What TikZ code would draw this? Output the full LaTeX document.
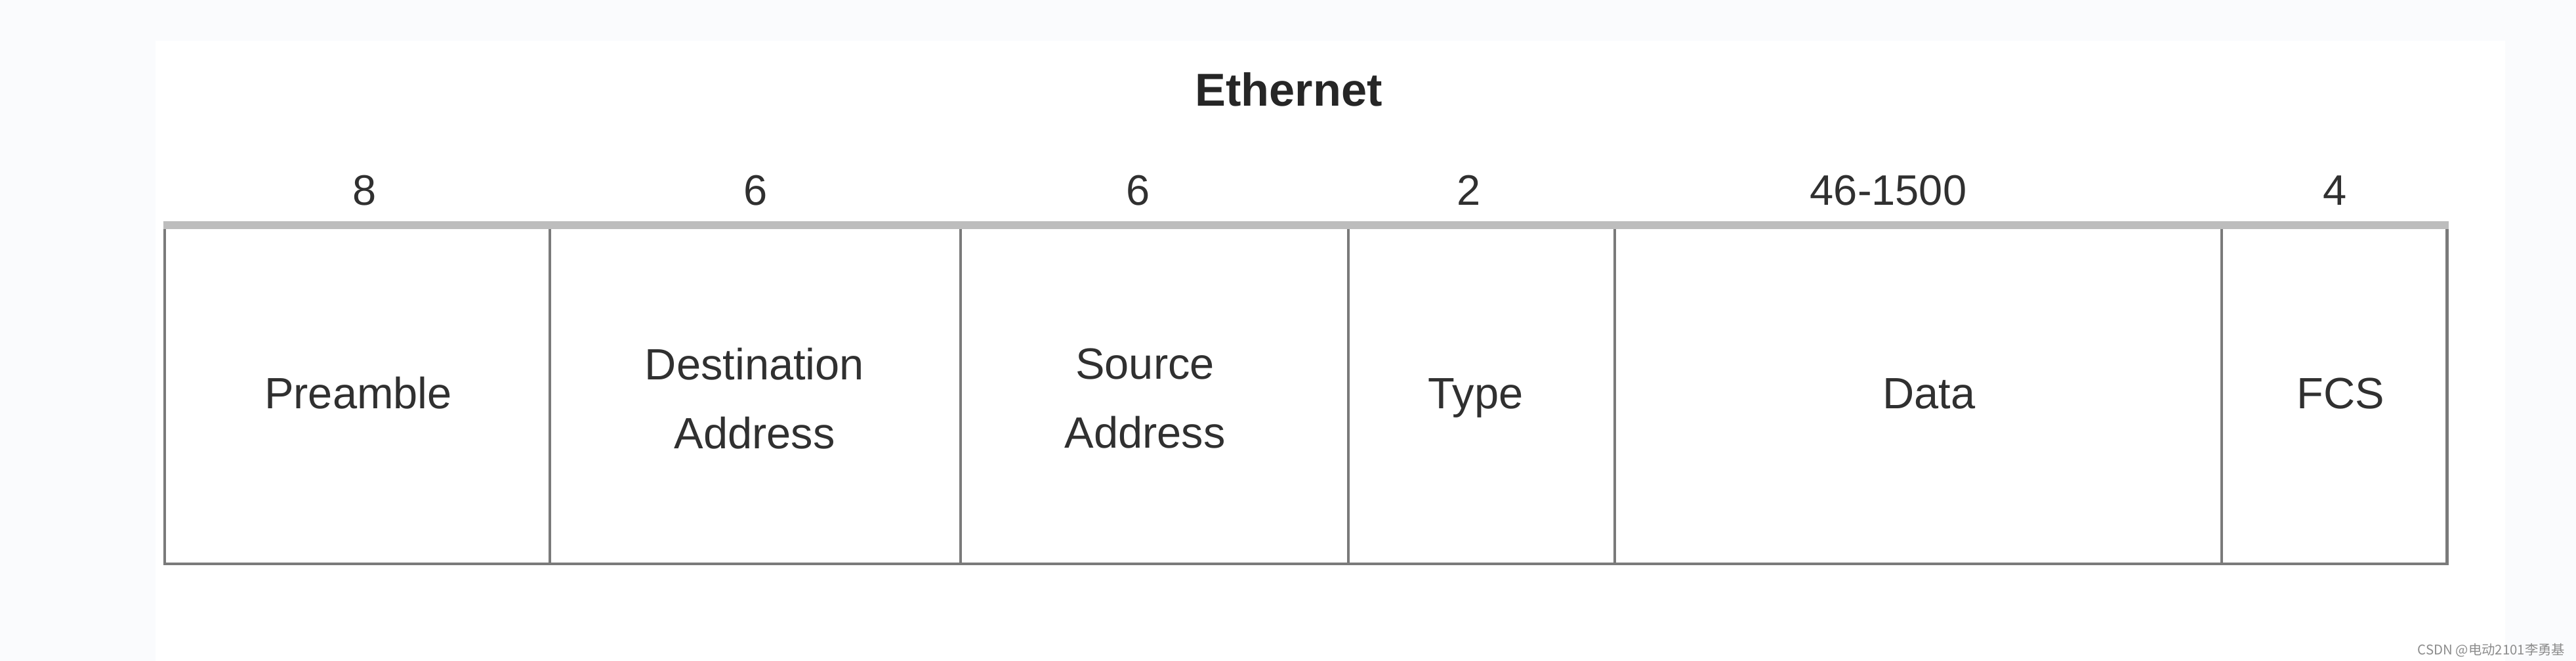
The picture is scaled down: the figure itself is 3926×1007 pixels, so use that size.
\documentclass[tikz,border=0pt]{standalone}
\usepackage{fontspec}
\setmainfont{Liberation Sans}
\newfontfamily\cjkfont{Noto Sans CJK SC}
\usepackage{xcolor}
\definecolor{pagegray}{HTML}{FAFBFD}
\definecolor{framegray}{HTML}{7A7A7A}
\definecolor{topgray}{HTML}{BDBDBD}
\definecolor{inkgray}{HTML}{303030}
\definecolor{markgray}{HTML}{8C8C8C}
\tikzset{
  field/.style={font=\fontsize{19}{29.8}\selectfont, text=inkgray, align=center, inner sep=0pt},
  octets/.style={font=\fontsize{18.5}{22}\selectfont, text=inkgray, inner sep=0pt, anchor=base},
}

\begin{document}
\begin{tikzpicture}[x=0.1mm,y=-0.1mm]
\useasboundingbox (0,0) rectangle (3926,1007);
\fill[pagegray] (0,0) rectangle (3926,1007);
\fill[white] (237,62) rectangle (3818,1007);
% title
\node[font=\fontsize{20}{23}\selectfont\bfseries, text=black!85, inner sep=0pt, anchor=base] (title) at (1964,162) {Ethernet};
% frame of the frame format
\coordinate (topleft) at (251,343);
\coordinate (botright) at (3729,859);
\draw[framegray, line width=1.4pt] (topleft) -- (topleft |- botright) -- (botright) -- (botright |- topleft);
\foreach \x in {838,1464,2055,2461,3386}
  \draw[framegray, line width=1.2pt] (\x,343) -- (\x,859);
\draw[topgray, line width=3.4pt] ([xshift=-0.7pt]topleft) -- ([xshift=0.7pt]botright |- topleft);
% field names
\node[field, anchor=base] (preamble) at (546,622) {Preamble};
\node[field] (dstaddr) at (1150,607) {Destination\\Address};
\node[field] (srcaddr) at (1745,607) {Source\\Address};
\node[field, anchor=base] (type) at (2249,622) {Type};
\node[field, anchor=base] (data) at (2940,622) {Data};
\node[field, anchor=base] (fcs) at (3567,622) {FCS};
% field lengths
\node[octets] (len-preamble) at (556,313) {8};
\node[octets] (len-dstaddr) at (1152,313) {6};
\node[octets] (len-srcaddr) at (1735,313) {6};
\node[octets] (len-type) at (2239,313) {2};
\node[octets] (len-data) at (2878,313) {46-1500};
\node[octets] (len-fcs) at (3559,313) {4};
% watermark
\node[font=\cjkfont\fontsize{5.8}{7}\selectfont, text=markgray, inner sep=0pt, anchor=base east] (mark) at (3910,997) {CSDN @电动2101李勇基};
\end{tikzpicture}
\end{document}
